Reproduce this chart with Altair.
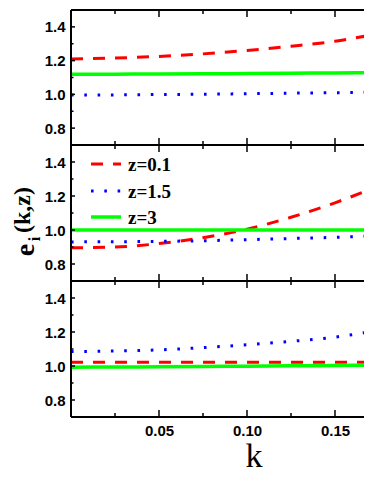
import altair as alt
import pandas as pd

# ---- data ----
k = [0.0, 0.025, 0.05, 0.075, 0.1, 0.125, 0.15, 0.175]
series = ["z=0.1", "z=1.5", "z=3"]

top_z01 = [1.21, 1.215, 1.225, 1.24, 1.26, 1.285, 1.315, 1.36]
top_z15 = [0.996, 0.997, 0.999, 1.001, 1.004, 1.007, 1.010, 1.013]
top_z3 = [1.120, 1.120, 1.121, 1.122, 1.123, 1.125, 1.127, 1.129]

mid_z01 = [0.895, 0.900, 0.920, 0.955, 1.005, 1.075, 1.160, 1.260]
mid_z15 = [0.930, 0.931, 0.933, 0.937, 0.943, 0.950, 0.957, 0.966]
mid_z3 = [1.0, 1.0, 1.0, 1.0, 1.0, 1.0, 1.0, 1.0]

bot_z01 = [1.022, 1.022, 1.022, 1.022, 1.022, 1.022, 1.022, 1.022]
bot_z15 = [1.085, 1.088, 1.095, 1.108, 1.125, 1.145, 1.170, 1.210]
bot_z3 = [0.993, 0.994, 0.995, 0.997, 0.999, 1.001, 1.003, 1.005]

x_major = [0.05, 0.10, 0.15]
x_minor = [0.025, 0.075, 0.125]
y_major = [0.8, 1.0, 1.2, 1.4]
y_minor = [0.9, 1.1, 1.3]

# ---- styles ----
colors = ["#ff0000", "#0000ff", "#00ff00"]
dashes = [[12, 10], [2.6, 10.7], None]
widths = [3, 3, 3.5]

W = 293
HEIGHTS = [135, 136, 136]
XDOM = [0, 0.16648]
YDOM = [0.7, 1.5]
SANS = "Liberation Sans"
SERIF = "Liberation Serif"

one = pd.DataFrame({"a": [0]})


def panel(vals, h, bottom, extra=None):
    xs = alt.Scale(domain=XDOM, nice=False, zero=False)
    ys = alt.Scale(domain=YDOM, nice=False, zero=False)
    if bottom:
        xaxis = alt.Axis(values=x_major, format=".2f", ticks=False, domain=False,
                         grid=False, title=None, labelFont=SANS, labelFontWeight="bold",
                         labelFontSize=15, labelColor="black", labelPadding=6)
    else:
        xaxis = alt.Axis(values=x_major, ticks=False, domain=False, grid=False,
                         title=None, labels=False)
    yaxis = alt.Axis(values=y_major, format=".1f", ticks=False, domain=False,
                     grid=False, title=None, labelFont=SANS, labelFontWeight="bold",
                     labelFontSize=15, labelColor="black", labelPadding=6)
    X = lambda f: alt.X(f, scale=xs, axis=xaxis, title=None)
    Y = lambda f: alt.Y(f, scale=ys, axis=yaxis, title=None)
    layers = []
    for i, (name, v) in enumerate(zip(series, vals)):
        df = pd.DataFrame({"t": k, "v": v})
        mk = dict(color=colors[i], strokeWidth=widths[i], clip=True,
                  interpolate="monotone")
        if dashes[i] is not None:
            mk["strokeDash"] = dashes[i]
        layers.append(alt.Chart(df).mark_line(**mk).encode(x=X("t:Q"), y=Y("v:Q")))
    # ticks (inward)
    tk = dict(color="black", strokeWidth=1.5)
    for vals_t, L in [(x_major, 7), (x_minor, 4)]:
        d = pd.DataFrame({"t": vals_t})
        layers.append(alt.Chart(d).mark_rule(**tk).encode(
            x=X("t:Q"), y=alt.value(0), y2=alt.value(L)))
        layers.append(alt.Chart(d).mark_rule(**tk).encode(
            x=X("t:Q"), y=alt.value(h), y2=alt.value(h - L)))
    for vals_t, L in [(y_major, 4), (y_minor, 2.5)]:
        d = pd.DataFrame({"v": vals_t})
        layers.append(alt.Chart(d).mark_rule(**tk).encode(
            y=Y("v:Q"), x=alt.value(0), x2=alt.value(L)))
    # frame (top, bottom, left)
    fr = dict(color="black", strokeWidth=2)
    layers.append(alt.Chart(one).mark_rule(**fr).encode(
        x=alt.value(0), x2=alt.value(W), y=alt.value(0)))
    layers.append(alt.Chart(one).mark_rule(**fr).encode(
        x=alt.value(0), x2=alt.value(W), y=alt.value(h)))
    layers.append(alt.Chart(one).mark_rule(**fr).encode(
        x=alt.value(0), y=alt.value(0), y2=alt.value(h)))
    if extra:
        layers.extend(extra)
    return alt.layer(*layers).properties(width=W, height=h)


# legend in the middle panel
legend_layers = []
leg_y = [19, 46, 72]
for i, name in enumerate(series):
    mk = dict(color=colors[i], strokeWidth=widths[i])
    if dashes[i] is not None:
        mk["strokeDash"] = dashes[i]
    legend_layers.append(alt.Chart(one).mark_rule(**mk).encode(
        x=alt.value(20), x2=alt.value(50), y=alt.value(leg_y[i])))
    legend_layers.append(alt.Chart(one).mark_text(
        text=name, font=SERIF, fontWeight="bold", fontSize=19, align="left",
        baseline="middle", color="black").encode(
        x=alt.value(57), y=alt.value(leg_y[i] + 1)))

# y title e_i (k,z)
title_layers = [
    alt.Chart(one).mark_text(text="e", font=SERIF, fontWeight="bold", fontSize=28,
                             angle=270, align="center", baseline="alphabetic",
                             color="black").encode(x=alt.value(-37), y=alt.value(105)),
    alt.Chart(one).mark_text(text="i", font=SERIF, fontWeight="bold", fontSize=16,
                             angle=270, align="center", baseline="alphabetic",
                             color="black").encode(x=alt.value(-31), y=alt.value(94)),
    alt.Chart(one).mark_text(text="(k,z)", font=SERIF, fontWeight="bold", fontSize=24,
                             angle=270, align="center", baseline="alphabetic",
                             color="black").encode(x=alt.value(-41.2), y=alt.value(65)),
]

k_title = [alt.Chart(one).mark_text(text="k", font=SERIF, fontSize=34,
                                    align="center", baseline="alphabetic",
                                    color="black").encode(x=alt.value(183), y=alt.value(186))]

p1 = panel([top_z01, top_z15, top_z3], HEIGHTS[0], False)
p2 = panel([mid_z01, mid_z15, mid_z3], HEIGHTS[1], False, legend_layers + title_layers)
p3 = panel([bot_z01, bot_z15, bot_z3], HEIGHTS[2], True, k_title)

chart = alt.vconcat(p1, p2, p3, spacing=0, bounds="flush").configure_view(
    strokeWidth=0
).properties(
    padding={"left": 2, "top": 1, "right": 0, "bottom": 0}
)

chart.save("out.html", embed_options={"renderer": "svg", "actions": False})
